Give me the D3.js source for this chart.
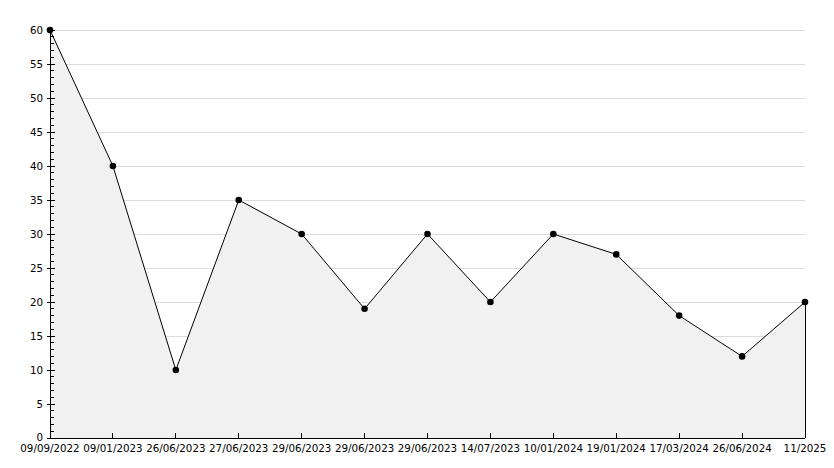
<!DOCTYPE html>
<html>
<head>
<meta charset="utf-8">
<script src="https://cdn.jsdelivr.net/npm/d3@7"></script>
<style>
  body { margin: 0; background: #fff; }
  text { font-family: "DejaVu Sans", sans-serif; font-size: 10.3px; fill: #000; }
</style>
</head>
<body>
<div class="canvas"></div>
<script>
const [width, height] = [834, 468];
const margin = {top: 30, right: 29, bottom: 30, left: 50};

// data
const dates = ['09/09/2022', '09/01/2023', '26/06/2023', '27/06/2023', '29/06/2023', '29/06/2023',
               '29/06/2023', '14/07/2023', '10/01/2024', '19/01/2024', '17/03/2024', '26/06/2024', '11/2025'];
const values = [60, 40, 10, 35, 30, 19, 30, 20, 30, 27, 18, 12, 20];
const yTicks = [0, 5, 10, 15, 20, 25, 30, 35, 40, 45, 50, 55, 60];

const svg = d3.select('.canvas')
              .append('svg')
              .attr('width', width)
              .attr('height', height);

const x = d3.scaleLinear()
            .domain([0, dates.length - 1])
            .range([margin.left, width - margin.right]);
const y = d3.scaleLinear()
            .domain([0, 60])
            .range([height - margin.bottom, margin.top]);

const pts = values.map((v, i) => ({i, v}));

// grid
svg.selectAll('line.grid')
   .data(yTicks.filter(t => t > 0))
   .enter()
   .append('line')
   .attr('x1', margin.left).attr('x2', width - margin.right)
   .attr('y1', d => y(d)).attr('y2', d => y(d))
   .attr('stroke', '#dcdcdc')
   .attr('shape-rendering', 'crispEdges');

// area
const area = d3.area()
               .x(d => x(d.i))
               .y0(y(0))
               .y1(d => y(d.v));
svg.append('path')
   .attr('d', area(pts))
   .attr('fill', '#f1f1f1');

// right edge
svg.append('line')
   .attr('x1', x(dates.length - 1)).attr('x2', x(dates.length - 1))
   .attr('y1', y(values[values.length - 1])).attr('y2', y(0))
   .attr('stroke', '#000')
   .attr('shape-rendering', 'crispEdges');

// y axis with minor ticks
const yAxis = svg.append('g')
   .attr('transform', `translate(${margin.left},0)`);
yAxis.append('line')
   .attr('x1', 0).attr('x2', 0)
   .attr('y1', y(0)).attr('y2', y(60))
   .attr('stroke', '#000')
   .attr('shape-rendering', 'crispEdges');
yAxis.selectAll('line.minor')
   .data(d3.range(0, 61).filter(d => d % 5 !== 0))
   .enter()
   .append('line')
   .attr('x1', 0).attr('x2', 4)
   .attr('y1', d => y(d)).attr('y2', d => y(d))
   .attr('stroke', '#000')
   .attr('shape-rendering', 'crispEdges');
yAxis.selectAll('line.major')
   .data(yTicks)
   .enter()
   .append('line')
   .attr('x1', -3).attr('x2', 5)
   .attr('y1', d => y(d)).attr('y2', d => y(d))
   .attr('stroke', '#000')
   .attr('shape-rendering', 'crispEdges');
yAxis.selectAll('text')
   .data(yTicks)
   .enter()
   .append('text')
   .attr('x', -7)
   .attr('y', d => y(d) - (d === 0 ? 1 : 0))
   .attr('dy', '0.35em')
   .attr('text-anchor', 'end')
   .text(d => d);

// x axis
const xAxis = svg.append('g');
xAxis.append('line')
   .attr('x1', margin.left).attr('x2', width - margin.right)
   .attr('y1', y(0)).attr('y2', y(0))
   .attr('stroke', '#000')
   .attr('shape-rendering', 'crispEdges');
xAxis.selectAll('line.tick')
   .data(dates)
   .enter()
   .append('line')
   .attr('x1', (d, i) => x(i)).attr('x2', (d, i) => x(i))
   .attr('y1', y(0)).attr('y2', y(0) - 5)
   .attr('stroke', '#000')
   .attr('shape-rendering', 'crispEdges');
xAxis.selectAll('text')
   .data(dates)
   .enter()
   .append('text')
   .attr('x', (d, i) => x(i))
   .attr('y', y(0) + 14)
   .attr('text-anchor', 'middle')
   .text(d => d);

// line
const line = d3.line()
               .x(d => x(d.i))
               .y(d => y(d.v));
svg.append('path')
   .attr('d', line(pts))
   .attr('fill', 'none')
   .attr('stroke', '#000')
   .attr('stroke-width', 1);

// markers
svg.selectAll('path.mark')
   .data(pts)
   .enter()
   .append('path')
   .attr('d', d3.symbol().type(d3.symbolCircle).size(34))
   .attr('transform', d => `translate(${x(d.i)},${y(d.v)})`)
   .attr('fill', '#000');
</script>
</body>
</html>
